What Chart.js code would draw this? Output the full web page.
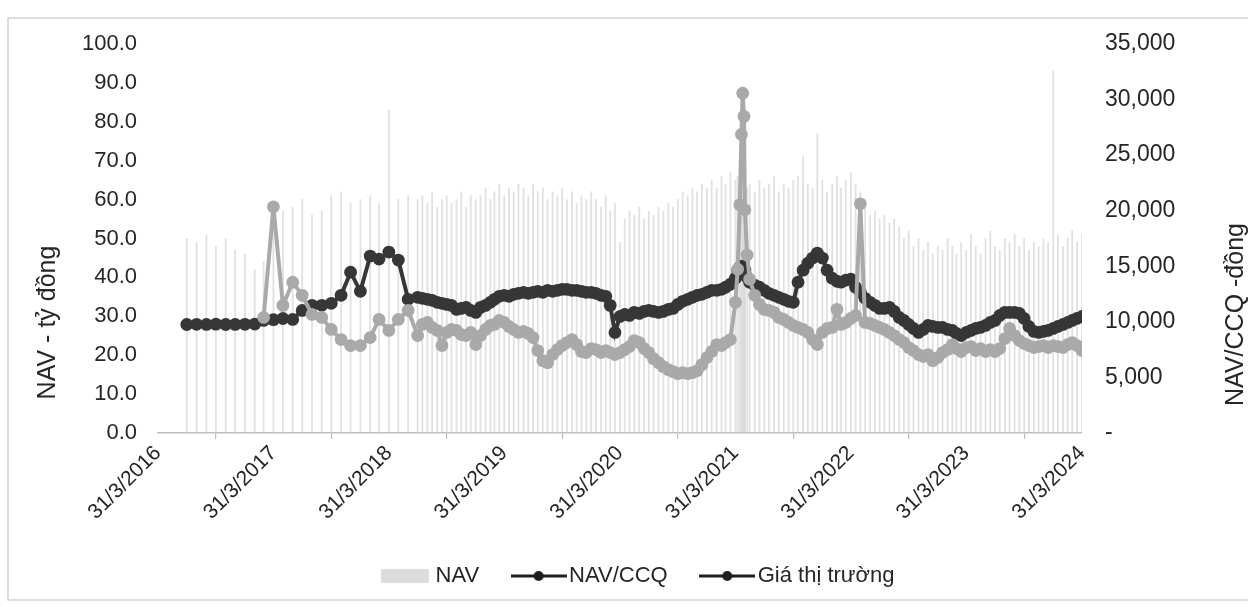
<!DOCTYPE html>
<html>
<head>
<meta charset="utf-8">
<script src="https://cdn.jsdelivr.net/npm/chart.js@4.4.1/dist/chart.umd.min.js"></script>
<style>
  html, body { margin: 0; padding: 0; background: #ffffff; }
  #wrap { position: relative; width: 1248px; height: 607px; }
</style>
</head>
<body>
<div id="wrap"><canvas id="chart" width="1248" height="607"></canvas></div>
<script>
// Observation dates: month-end until mid-2018, then twice a month
const dates = [
  '2016-06-30','2016-07-31','2016-08-31','2016-09-30','2016-10-31','2016-11-30','2016-12-31',
  '2017-01-31','2017-02-28','2017-03-31','2017-04-30','2017-05-31','2017-06-30','2017-07-31','2017-08-31','2017-09-30','2017-10-31','2017-11-30','2017-12-31',
  '2018-01-31','2018-02-28','2018-03-31','2018-04-30','2018-05-31','2018-06-30',
  '2018-07-15','2018-07-31','2018-08-15','2018-08-31','2018-09-15','2018-09-30','2018-10-15','2018-10-31','2018-11-15','2018-11-30','2018-12-15','2018-12-31',
  '2019-01-15','2019-01-31','2019-02-15','2019-02-28','2019-03-15','2019-03-31','2019-04-15','2019-04-30','2019-05-15','2019-05-31','2019-06-15','2019-06-30',
  '2019-07-15','2019-07-31','2019-08-15','2019-08-31','2019-09-15','2019-09-30','2019-10-15','2019-10-31','2019-11-15','2019-11-30','2019-12-15','2019-12-31',
  '2020-01-15','2020-01-31','2020-02-15','2020-02-29','2020-03-15','2020-03-31','2020-04-15','2020-04-30','2020-05-15','2020-05-31','2020-06-15','2020-06-30',
  '2020-07-15','2020-07-31','2020-08-15','2020-08-31','2020-09-15','2020-09-30','2020-10-15','2020-10-31','2020-11-15','2020-11-30','2020-12-15','2020-12-31',
  '2021-01-15','2021-01-31','2021-02-15','2021-02-28','2021-03-15','2021-03-31',
  '2021-04-07','2021-04-14','2021-04-19','2021-04-23','2021-04-27','2021-04-30',
  '2021-05-07','2021-05-15','2021-05-31',
  '2021-06-15','2021-06-30','2021-07-15','2021-07-31','2021-08-15','2021-08-31','2021-09-15','2021-09-30','2021-10-15','2021-10-31','2021-11-15','2021-11-30','2021-12-15','2021-12-31',
  '2022-01-15','2022-01-31','2022-02-15','2022-02-28','2022-03-15','2022-03-31','2022-04-15','2022-04-30','2022-05-15','2022-05-31','2022-06-15','2022-06-30',
  '2022-07-15','2022-07-31','2022-08-15','2022-08-31','2022-09-15','2022-09-30','2022-10-15','2022-10-31','2022-11-15','2022-11-30','2022-12-15','2022-12-31',
  '2023-01-15','2023-01-31','2023-02-15','2023-02-28','2023-03-15','2023-03-31','2023-04-15','2023-04-30','2023-05-15','2023-05-31','2023-06-15','2023-06-30',
  '2023-07-15','2023-07-31','2023-08-15','2023-08-31','2023-09-15','2023-09-30','2023-10-15','2023-10-31','2023-11-15','2023-11-30','2023-12-15','2023-12-31',
  '2024-01-15','2024-01-31','2024-02-15','2024-02-29','2024-03-15','2024-03-31'
];

// NAV of the fund, billion VND (left axis)
const navBillion = [
  50, 49, 51, 48, 50, 47, 46,
  42, 44, 59, 57, 58, 60, 56, 57, 61, 62, 59, 60,
  61, 59, 83, 60, 61, 60,
  61, 59, 62, 58, 60, 61, 59, 60, 62, 58, 61, 60,
  61, 63, 60, 62, 64, 61, 63, 62, 64, 63, 61, 64,
  62, 63, 60, 62, 61, 63, 60, 62, 59, 61, 60, 62,
  60, 58, 61, 57, 59, 49, 55, 57, 56, 58, 55, 57,
  56, 58, 57, 59, 58, 60, 62, 61, 63, 62, 64, 63,
  65, 63, 66, 64, 67, 65,
  66, 68, 67, 66, 65, 64,
  63, 64, 62,
  65, 63, 64, 66, 62, 64, 63, 65, 66, 71, 64, 63, 77, 65,
  62, 64, 66, 63, 65, 67, 64, 62, 58, 56, 57, 55,
  56, 54, 55, 53, 50, 52, 48, 50, 47, 49, 46, 48,
  47, 50, 48, 46, 49, 47, 51, 48, 46, 50, 52, 48,
  47, 50, 49, 51, 48, 50, 47, 49, 48, 50, 49, 93,
  51, 48, 50, 52, 49, 51
];

// NAV per fund unit, VND (right axis)
const navPerUnit = [
  9760, 9780, 9770, 9790, 9760, 9770, 9780,
  9800, 10130, 10200, 10300, 10220, 11030, 11490, 11490, 11670, 12390, 14470, 12750,
  15920, 15650, 16280, 15560, 12030, 12210,
  12120, 12030, 11940, 11760, 11670, 11575, 11485, 11125, 11215, 11305, 11035, 10855,
  11305, 11485, 11760, 12030, 12300, 12390, 12300, 12480, 12570, 12660, 12570, 12660,
  12750, 12660, 12840, 12750, 12840, 12930, 12930, 12840, 12840, 12750, 12660, 12660,
  12570, 12390, 12300, 11485, 9045, 10490, 10670, 10580, 10855, 10760, 10945, 11035,
  10945, 10855, 10945, 11125, 11215, 11575, 11850, 12030, 12210, 12390, 12480, 12660,
  12840, 12840, 12930, 13115, 13385, 13930,
  14650, 14920, 15010, 14920, 14830, 14650,
  14020, 13570, 13295,
  13115, 12840, 12570, 12390, 12210, 12030, 11850, 11760, 13570, 14650, 15280, 15740, 16190, 15740,
  14650, 13930, 13655, 13570, 13750, 13840, 13115, 12660, 12120, 11760, 11485, 11215,
  11215, 11305, 10945, 10400, 10130, 9770, 9405, 9045, 9315, 9680, 9590, 9500,
  9500, 9315, 9225, 8955, 8770, 9045, 9225, 9405, 9500, 9680, 9950, 10130,
  10580, 10855, 10855, 10855, 10760, 10310, 9590, 9135, 9045, 9135, 9225, 9405,
  9590, 9770, 9950, 10130, 10310, 10490
];

// Market price of a fund unit, VND (right axis); not traded before 2017-02
const marketPrice = [
  null, null, null, null, null, null, null,
  null, 10400, 20350, 11485, 13570, 12390, 10670, 10400, 9315, 8410, 7870, 7870,
  8590, 10220, 9225, 10220, 11035, 8770,
  9770, 9950, 9500, 9225, 7870, 9045, 9315, 9225, 8860, 8770, 9045, 7960,
  8770, 9315, 9680, 9770, 10130, 9950, 9590, 9315, 9045, 9135, 8955, 8590,
  7415, 6510, 6330, 7055, 7505, 7870, 8140, 8410, 7960, 7325, 7235, 7595,
  7505, 7235, 7415, 7235, 7055, 7235, 7505, 7780, 8320, 8140, 7595, 7235,
  6690, 6330, 5970, 5700, 5515, 5335, 5425, 5335, 5425, 5605, 6150, 6785,
  7325, 7960, 7870, 8140, 8410, 11760,
  14740, 20530, 26860, 30570, 28490, 20080,
  16010, 13840, 12390,
  11575, 11125, 11035, 10855, 10400, 10220, 9950, 9680, 9500, 9315, 9045, 8410, 7960, 9045,
  9405, 9500, 11125, 9770, 9950, 10310, 10580, 20620, 9950, 9860, 9680, 9500,
  9315, 9045, 8770, 8410, 8140, 7690, 7415, 7055, 6875, 7055, 6510, 6785,
  7235, 7505, 7960, 7595, 7325, 7690, 7780, 7415, 7595, 7325, 7505, 7325,
  7595, 8500, 9405, 8770, 8320, 8050, 7870, 7690, 7780, 7870, 7690, 7870,
  7780, 7690, 7960, 8140, 7870, 7415
];

// Date axis labels
const yearTicks = ['31/3/2016','31/3/2017','31/3/2018','31/3/2019','31/3/2020','31/3/2021','31/3/2022','31/3/2023','31/3/2024'];

const seriesNames = ['NAV', 'NAV/CCQ', 'Giá thị trường'];

// ---- helpers: dates become day offsets from the first axis label ----
const origin = Date.UTC(2016, 2, 31);
const dayOf = (y, m, d) => (Date.UTC(y, m - 1, d) - origin) / 86400000;
const isoDay = s => { const [y, m, d] = s.split('-').map(Number); return dayOf(y, m, d); };
const labelDay = s => { const [d, m, y] = s.split('/').map(Number); return dayOf(y, m, d); };
const xs = dates.map(isoDay);
const toPoints = arr => arr.map((v, i) => ({ x: xs[i], y: v }));

const FONT = '"Liberation Sans", Arial, sans-serif';
const TEXT = '#262626';
const DARK = '#363636';
const GREY = '#a9a9a9';

// legend icons: shaded box for bars, line with dot for the series
function boxIcon() {
  const c = document.createElement('canvas');
  c.width = 48; c.height = 14;
  const g = c.getContext('2d');
  g.fillStyle = '#dcdcdc';
  g.fillRect(0, 0, 48, 14);
  return c;
}
function lineIcon(color) {
  const c = document.createElement('canvas');
  c.width = 56; c.height = 12;
  const g = c.getContext('2d');
  g.strokeStyle = color; g.lineWidth = 3;
  g.beginPath(); g.moveTo(0, 6); g.lineTo(56, 6); g.stroke();
  g.fillStyle = color;
  g.beginPath(); g.arc(28, 6, 5, 0, Math.PI * 2); g.fill();
  return c;
}
const legendIcons = [boxIcon(), lineIcon('#1e1e1e'), lineIcon('#1e1e1e')];

// axis titles and the outer frame
const decorations = {
  id: 'decorations',
  beforeDraw(chart) {
    const ctx = chart.ctx;
    ctx.save();
    ctx.strokeStyle = '#d2d2d2';
    ctx.lineWidth = 1.5;
    ctx.strokeRect(8, 18, 1260, 582);
    ctx.restore();
  },
  afterDraw(chart) {
    const ctx = chart.ctx;
    const a = chart.chartArea;
    ctx.save();
    ctx.fillStyle = TEXT;
    ctx.font = '25px ' + FONT;
    ctx.textAlign = 'center';
    ctx.textBaseline = 'middle';
    ctx.translate(48, (a.top + a.bottom) / 2 + 84);
    ctx.rotate(-Math.PI / 2);
    ctx.fillText('NAV - tỷ đồng', 0, 0);
    ctx.restore();
    ctx.save();
    ctx.fillStyle = TEXT;
    ctx.font = '25px ' + FONT;
    ctx.textAlign = 'center';
    ctx.textBaseline = 'middle';
    ctx.translate(1236, (a.top + a.bottom) / 2 + 76);
    ctx.rotate(-Math.PI / 2);
    ctx.fillText('NAV/CCQ -đồng', 0, 0);
    ctx.restore();
  }
};

new Chart(document.getElementById('chart'), {
  type: 'line',
  data: {
    datasets: [
      {
        type: 'bar',
        label: seriesNames[0],
        data: toPoints(navBillion),
        yAxisID: 'yNav',
        backgroundColor: 'rgba(205,205,205,0.6)',
        barThickness: 1.2,
        order: 3
      },
      {
        label: seriesNames[1],
        data: toPoints(navPerUnit),
        yAxisID: 'yPrice',
        borderColor: DARK,
        backgroundColor: DARK,
        borderWidth: 4,
        pointRadius: 6.4,
        pointBorderWidth: 0,
        pointBackgroundColor: DARK,
        tension: 0,
        order: 2
      },
      {
        label: seriesNames[2],
        data: toPoints(marketPrice),
        yAxisID: 'yPrice',
        borderColor: GREY,
        backgroundColor: GREY,
        borderWidth: 4,
        pointRadius: 6.4,
        pointBorderWidth: 0,
        pointBackgroundColor: GREY,
        tension: 0,
        spanGaps: false,
        order: 1
      }
    ]
  },
  options: {
    responsive: false,
    animation: false,
    devicePixelRatio: 1,
    layout: { padding: { top: 44, left: 32, right: 0, bottom: 10 } },
    plugins: {
      tooltip: { enabled: false },
      legend: {
        position: 'bottom',
        labels: {
          usePointStyle: true,
          pointStyleWidth: 39,
          padding: 40,
          color: TEXT,
          font: { family: FONT, size: 22 },
          generateLabels: chart => chart.data.datasets.map((ds, i) => ({
            text: ds.label,
            datasetIndex: i,
            pointStyle: legendIcons[i],
            fillStyle: '#000',
            strokeStyle: '#000',
            lineWidth: 0,
            hidden: false,
            fontColor: TEXT
          }))
        }
      }
    },
    scales: {
      x: {
        type: 'linear',
        min: 0,
        max: labelDay(yearTicks[yearTicks.length - 1]),
        offset: false,
        afterBuildTicks: s => { s.ticks = yearTicks.map(t => ({ value: labelDay(t) })); },
        afterFit: s => { s.height = 92; },
        ticks: {
          autoSkip: false,
          minRotation: 45,
          maxRotation: 45,
          padding: 2,
          color: TEXT,
          font: { family: FONT, size: 21 },
          callback: (v, i) => yearTicks[i]
        },
        grid: { display: true, drawOnChartArea: false, drawTicks: true, tickLength: 6, color: '#bdbdbd', lineWidth: 1.2 },
        border: { display: true, color: '#bdbdbd', width: 1.5 }
      },
      yNav: {
        type: 'linear',
        position: 'left',
        min: 0,
        max: 100,
        afterFit: s => { s.width = 126; },
        ticks: {
          stepSize: 10,
          padding: 13,
          color: TEXT,
          font: { family: FONT, size: 22 },
          callback: v => v.toFixed(1)
        },
        grid: { display: false },
        border: { display: false }
      },
      yPrice: {
        type: 'linear',
        position: 'right',
        min: 0,
        max: 35000,
        afterFit: s => { s.width = 166; },
        ticks: {
          stepSize: 5000,
          padding: 15,
          color: TEXT,
          font: { family: FONT, size: 23 },
          callback: v => v === 0 ? '-' : v.toLocaleString('en-US')
        },
        grid: { display: false },
        border: { display: false }
      }
    }
  },
  plugins: [decorations]
});
</script>
</body>
</html>
